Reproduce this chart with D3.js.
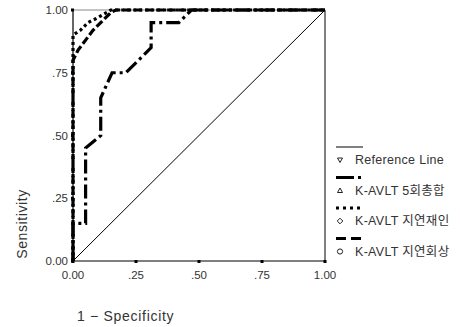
<!DOCTYPE html>
<html>
<head>
<meta charset="utf-8">
<script src="https://cdn.jsdelivr.net/npm/d3@7"></script>
<style>
  body { margin: 0; background: #fff; }
  svg { font-family: "Liberation Sans", Arial, "Noto Sans CJK KR", sans-serif; }
</style>
</head>
<body>
<svg id="chart" width="460" height="327"></svg>
<script>
const ticks = [0, 0.25, 0.5, 0.75, 1];
const tickLabels = ["0.00", ".25", ".50", ".75", "1.00"];

// ROC points [1 - specificity, sensitivity]
const referenceLine = [[0, 0], [1, 1]];
const total5 = [[0, 0], [0, 0.15], [0.05, 0.15], [0.05, 0.45], [0.11, 0.5], [0.11, 0.65], [0.155, 0.75],
  [0.21, 0.75], [0.31, 0.85], [0.31, 0.95], [0.42, 0.95], [0.47, 1], [1, 1]];
const delayedRecog = [[0, 0], [0, 0.9], [0.03, 0.92], [0.06, 0.95], [0.1, 0.97], [0.15, 1], [1, 1]];
const delayedRecall = [[0, 0], [0, 0.8], [0.02, 0.84], [0.05, 0.88], [0.08, 0.92], [0.11, 0.95],
  [0.15, 0.99], [0.17, 1], [1, 1]];

const series = [
  { name: "Reference Line", marker: "tridown", data: referenceLine, width: 1, dash: null, legendDash: null },
  { name: "K-AVLT 5회총합", marker: "triup", data: total5, width: 3.2, dash: "14,4,3,4", legendDash: "18,4,3,4" },
  { name: "K-AVLT 지연재인", marker: "diamond", data: delayedRecog, width: 3.2, dash: "3,3", legendDash: "3,4" },
  { name: "K-AVLT 지연회상", marker: "circle", data: delayedRecall, width: 3.2, dash: "8,3", legendDash: "10,5" },
];

const svg = d3.select("#chart");
const margin = { left: 73, right: 135, top: 10, bottom: 66 };
const W = 460, H = 327;
const x = d3.scaleLinear().domain([0, 1]).range([margin.left, W - margin.right]);
const y = d3.scaleLinear().domain([0, 1]).range([H - margin.bottom, margin.top]);

// frame
svg.append("line").attr("x1", x(0)).attr("x2", x(1)).attr("y1", y(1)).attr("y2", y(1))
  .attr("stroke", "#888").attr("stroke-width", 1);
svg.append("line").attr("x1", x(1)).attr("x2", x(1)).attr("y1", y(1)).attr("y2", y(0))
  .attr("stroke", "#000").attr("stroke-width", 1);

const line = d3.line().x((d) => x(d[0])).y((d) => y(d[1]));

series.forEach((s) => {
  svg.append("path")
    .attr("d", line(s.data))
    .attr("fill", "none")
    .attr("stroke", "#000")
    .attr("stroke-width", s.width)
    .attr("stroke-dasharray", s.dash)
    .attr("stroke-linejoin", "miter");
});

// axes
svg.append("line").attr("x1", x(0)).attr("x2", x(0)).attr("y1", y(0)).attr("y2", y(1))
  .attr("stroke", "#000").attr("stroke-width", 1.2);
svg.append("line").attr("x1", x(0)).attr("x2", x(1)).attr("y1", y(0)).attr("y2", y(0))
  .attr("stroke", "#000").attr("stroke-width", 1.2);

svg.selectAll("rect.ytick").data(ticks).join("rect").attr("class", "ytick")
  .attr("x", x(0) - 2).attr("y", (d) => y(d) - 1.5).attr("width", 3).attr("height", 3).attr("fill", "#000");
svg.selectAll("rect.xtick").data(ticks).join("rect").attr("class", "xtick")
  .attr("x", (d) => x(d) - 1.5).attr("y", y(0) - 1).attr("width", 3).attr("height", 3).attr("fill", "#000");

svg.selectAll("text.ylab").data(ticks).join("text").attr("class", "ylab")
  .attr("x", x(0) - 5).attr("y", (d) => y(d)).attr("dy", "0.35em")
  .attr("text-anchor", "end").attr("font-size", 11.5).attr("fill", "#333")
  .text((d, i) => tickLabels[i]);
svg.selectAll("text.xlab").data(ticks).join("text").attr("class", "xlab")
  .attr("x", (d) => x(d)).attr("y", y(0) + 18)
  .attr("text-anchor", "middle").attr("font-size", 11.5).attr("fill", "#333")
  .text((d, i) => tickLabels[i]);

svg.append("text").attr("transform", "translate(27,224) rotate(-90)")
  .attr("text-anchor", "middle").attr("font-size", 14).attr("letter-spacing", 0.6)
  .attr("fill", "#333").text("Sensitivity");
svg.append("text").attr("x", 77).attr("y", 321)
  .attr("font-size", 14).attr("letter-spacing", 0.7).attr("fill", "#333").text("1 − Specificity");

// legend markers as small outlined shapes
const markerPath = {
  tridown: "M-2.5,-2 L2.5,-2 L0,2.5 Z",
  triup: "M-2.5,2 L2.5,2 L0,-2.5 Z",
  diamond: "M0,-2.8 L2.8,0 L0,2.8 L-2.8,0 Z",
  circle: d3.arc()({ innerRadius: 0, outerRadius: 2.6, startAngle: 0, endAngle: 2 * Math.PI }),
};

const lg = svg.append("g").attr("transform", "translate(336,147)");
series.forEach((s, i) => {
  const gy = i * 30.5;
  lg.append("line").attr("x1", 0).attr("x2", i === 1 ? 25 : 27).attr("y1", gy).attr("y2", gy)
    .attr("stroke", "#000").attr("stroke-width", s.width === 1 ? 1 : 3.2)
    .attr("stroke-dasharray", s.legendDash);
  lg.append("path").attr("d", markerPath[s.marker])
    .attr("transform", `translate(4,${gy + 13})`)
    .attr("fill", "#fff").attr("stroke", "#222").attr("stroke-width", 1);
  lg.append("text").attr("x", 19).attr("y", gy + 17)
    .attr("font-size", 12.5).attr("letter-spacing", 0.3).attr("fill", "#333").text(s.name);
});
</script>
</body>
</html>
